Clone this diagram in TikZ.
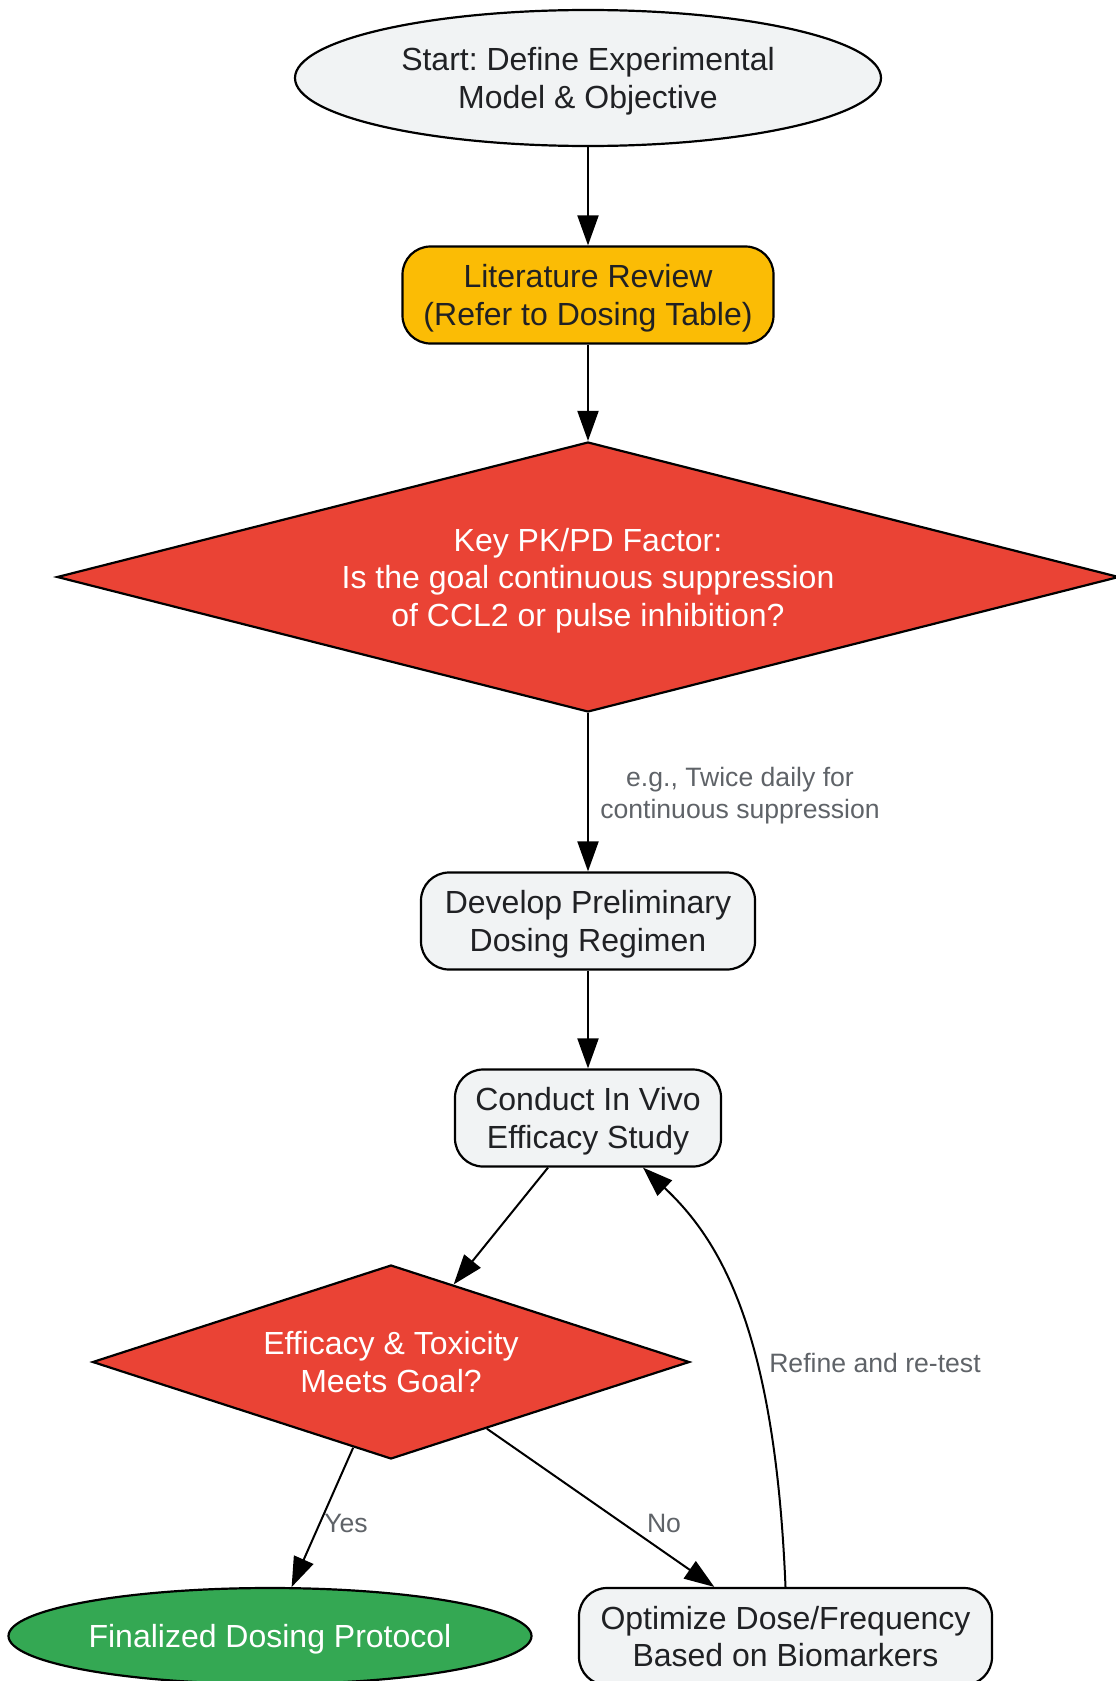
\documentclass[tikz,border=0pt]{standalone}
\usepackage{fontspec}
\setmainfont{Liberation Sans}
\usetikzlibrary{shapes.geometric, arrows.meta, positioning}
\definecolor{nodegray}{RGB}{241,243,244}
\definecolor{reviewyellow}{RGB}{251,188,5}
\definecolor{decisionred}{RGB}{234,67,53}
\definecolor{finalgreen}{RGB}{52,168,83}
\definecolor{notegray}{RGB}{95,99,104}
\definecolor{textdark}{RGB}{32,33,36}
\frenchspacing

\begin{document}
\begin{tikzpicture}[
    x=0.5pt, y=-0.5pt,
    terminal/.style={ellipse, draw, line width=1.1pt, fill=nodegray, text=textdark, inner sep=0pt, text depth=0pt, align=center, font=\fontsize{16}{18.75}\selectfont},
    process/.style={draw, line width=1.1pt, fill=nodegray, text=textdark, rounded corners=14pt, minimum height=48.5pt, inner sep=0pt, text depth=0pt, align=center, font=\fontsize{16}{18.75}\selectfont},
    decision/.style={diamond, draw, line width=1.1pt, fill=decisionred, text=white, inner sep=0pt, text depth=0pt, align=center, font=\fontsize{16}{18.75}\selectfont},
    flow/.style={-{Triangle[length=15pt, width=10.5pt]}, line width=1pt},
    edgenote/.style={text=notegray, align=center, inner sep=0pt, text depth=0pt, font=\fontsize{13.3}{16}\selectfont}
]
    \useasboundingbox (0,0) rectangle (1115,1681);

    % Start and review
    \node[terminal, minimum width=293pt, minimum height=68pt] (start) at (588,78) {Start: Define Experimental\\Model \& Objective};
    \node[process, fill=reviewyellow, minimum width=185.5pt] (review) at (588,295) {Literature Review\\(Refer to Dosing Table)};

    % PK/PD decision
    \node[decision, minimum width=531pt, minimum height=135pt, shape aspect=3.93] (pkpd) at (588,577) {Key PK/PD Factor:\\Is the goal continuous suppression\\of CCL2 or pulse inhibition?};

    % Regimen and study
    \node[process, minimum width=167pt] (regimen) at (588,921) {Develop Preliminary\\Dosing Regimen};
    \node[process, minimum width=133pt] (study) at (588,1118) {Conduct In Vivo\\Efficacy Study};

    % Outcome
    \node[decision, minimum width=298.5pt, minimum height=97pt, shape aspect=3.08] (meetsgoal) at (391,1362) {Efficacy \& Toxicity\\Meets Goal?};
    \node[terminal, fill=finalgreen, text=white, minimum width=261.5pt, minimum height=48pt] (protocol) at (270,1636) {Finalized Dosing Protocol};
    \node[process, minimum width=206.5pt] (optimize) at (785.5,1636.5) {Optimize Dose/Frequency\\Based on Biomarkers};

    % Connections
    \draw[flow] (start) -- (review);
    \draw[flow] (review) -- (pkpd);
    \draw[flow] (pkpd) -- (regimen);
    \draw[flow] (regimen) -- (study);
    \draw[flow] (study) -- (meetsgoal);
    \draw[flow] (meetsgoal) -- (protocol);
    \draw[flow] (meetsgoal) -- (optimize);
    \draw[flow] (optimize.north) .. controls (775,1330) and (720,1240) .. ([xshift=27.5pt]study.south);

    % Edge notes
    \node[edgenote] (suppnote) at (740,793) {e.g., Twice daily for\\continuous suppression};
    \node[edgenote] (refinenote) at (875,1363) {Refine and re-test};
    \node[edgenote] (yesnote) at (346,1523) {Yes};
    \node[edgenote] (nonote) at (664,1523) {No};
\end{tikzpicture}
\end{document}
